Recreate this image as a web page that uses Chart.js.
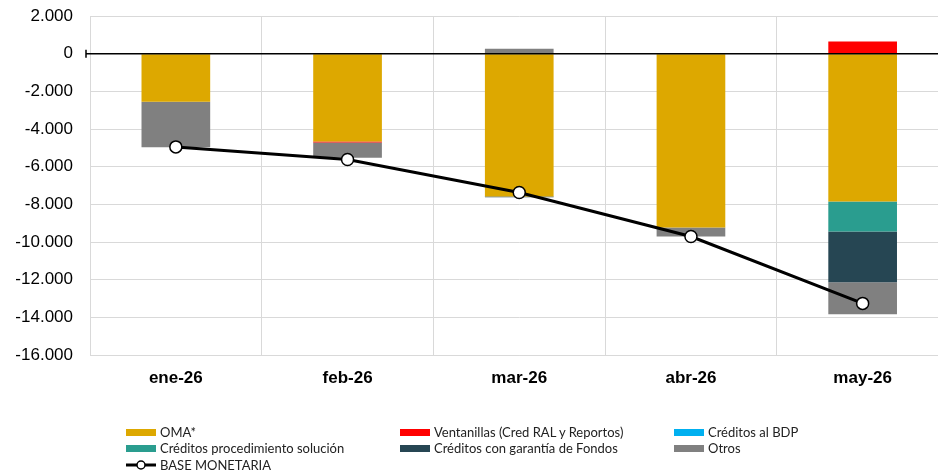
<!DOCTYPE html>
<html>
<head>
<meta charset="utf-8">
<script src="https://cdn.jsdelivr.net/npm/chart.js@4"></script>
<style>
  body { margin: 0; background: #fff; overflow: hidden; }
  #wrap { position: relative; width: 938px; height: 476px; overflow: hidden; }
  #chart { position: absolute; left: 0; top: 0; }
  #legend { position: absolute; left: 0; top: 424px; width: 938px; font-family: Lato, "Open Sans", sans-serif; font-size: 13px; color: #222; }
  .item { position: absolute; display: flex; align-items: center; white-space: nowrap; height: 16px; }
  .box { width: 30px; height: 7px; margin-right: 4px; }
</style>
</head>
<body>
<div id="wrap">
  <canvas id="chart" width="956" height="476"></canvas>
  <div id="legend"></div>
</div>
<script>
// Data (millones)
const categories = ["ene-26", "feb-26", "mar-26", "abr-26", "may-26"];
const oma = [-2550, -4670, -7590, -9230, -7850];
const ventanillas = [0, -50, 0, 0, 640];
const creditosBDP = [0, 0, 0, 0, 0];
const procSolucion = [0, 0, 0, 0, -1590];
const garantiaFondos = [0, 0, -40, 0, -2700];
const otros = [-2420, -810, 260, -480, -1700];
const baseMonetaria = [-4950, -5620, -7370, -9710, -13260];
const yTicks = [2000, 0, -2000, -4000, -6000, -8000, -10000, -12000, -14000, -16000];

const barSeries = [
    { label: "OMA*", data: oma, color: "#DDA800" },
    { label: "Ventanillas (Cred RAL y Reportos)", data: ventanillas, color: "#FF0000" },
    { label: "Créditos al BDP", data: creditosBDP, color: "#00B0F0" },
    { label: "Créditos procedimiento solución", data: procSolucion, color: "#2A9D8F" },
    { label: "Créditos con garantía de Fondos", data: garantiaFondos, color: "#264653" },
    { label: "Otros", data: otros, color: "#808080" }
];

const fmt = v => v.toLocaleString("de-DE");

const datasets = barSeries.map(s => ({
    type: "bar",
    label: s.label,
    data: s.data,
    backgroundColor: s.color,
    stack: "bars",
    categoryPercentage: 1,
    barPercentage: 0.4,
    order: 2
}));
datasets.push({
    type: "line",
    label: "BASE MONETARIA",
    data: baseMonetaria,
    borderColor: "#000",
    borderWidth: 3,
    pointRadius: 6,
    pointBackgroundColor: "#fff",
    pointBorderColor: "#000",
    pointBorderWidth: 1.5,
    stack: "line",
    tension: 0,
    order: 1
});

// black zero line with a small tick on the axis
const zeroLine = {
    id: "zeroLine",
    afterDatasetsDraw(chart) {
        const y = chart.scales.y.getPixelForValue(0);
        const c = chart.ctx;
        c.save();
        c.strokeStyle = "#000";
        c.lineWidth = 1.5;
        c.beginPath();
        c.moveTo(chart.chartArea.left - 4, y);
        c.lineTo(chart.chartArea.right, y);
        c.moveTo(chart.chartArea.left - 4, y - 4);
        c.lineTo(chart.chartArea.left - 4, y + 4);
        c.stroke();
        c.restore();
    }
};

new Chart(document.getElementById("chart"), {
    data: { labels: categories, datasets: datasets },
    options: {
        responsive: false,
        animation: false,
        layout: { padding: { top: 16, right: 0, bottom: 76, left: 0 } },
        plugins: { legend: { display: false }, tooltip: { enabled: false } },
        scales: {
            x: {
                stacked: true,
                grid: { color: "#d9d9d9", drawTicks: true, tickLength: 13, tickColor: "rgba(0,0,0,0)", offset: true },
                border: { color: "#d9d9d9" },
                ticks: { color: "#000", padding: 0, font: { family: "Liberation Sans, Arial", size: 17, weight: "bold" } },
                afterFit(scale) { scale.height = 45; }
            },
            y: {
                stacked: true,
                min: -16000,
                max: 2000,
                grid: { color: "#d9d9d9", drawTicks: true, tickLength: 17, tickColor: "rgba(0,0,0,0)" },
                border: { color: "#d9d9d9" },
                afterBuildTicks(scale) { scale.ticks = yTicks.map(v => ({ value: v })); },
                ticks: { color: "#000", padding: 0, callback: v => fmt(v), font: { family: "Liberation Sans, Arial", size: 17 } },
                afterFit(scale) { scale.width = 90; }
            }
        }
    },
    plugins: [zeroLine]
});

// legend in three columns
const legend = document.getElementById("legend");
const cols = [126, 400, 674];
const rows = [0, 16, 33];
barSeries.forEach((s, i) => {
    const el = document.createElement("div");
    el.className = "item";
    el.style.left = cols[i % 3] + "px";
    el.style.top = rows[Math.floor(i / 3)] + "px";
    el.innerHTML = '<span class="box" style="background:' + s.color + '"></span>' + s.label;
    legend.appendChild(el);
});
const lineItem = document.createElement("div");
lineItem.className = "item";
lineItem.style.left = cols[0] + "px";
lineItem.style.top = rows[2] + "px";
lineItem.innerHTML = '<svg width="30" height="12" style="margin-right:4px"><line x1="0" y1="6" x2="30" y2="6" stroke="#000" stroke-width="3"/><circle cx="15" cy="6" r="4" fill="#fff" stroke="#000" stroke-width="1.5"/></svg>BASE MONETARIA';
legend.appendChild(lineItem);
</script>
</body>
</html>
